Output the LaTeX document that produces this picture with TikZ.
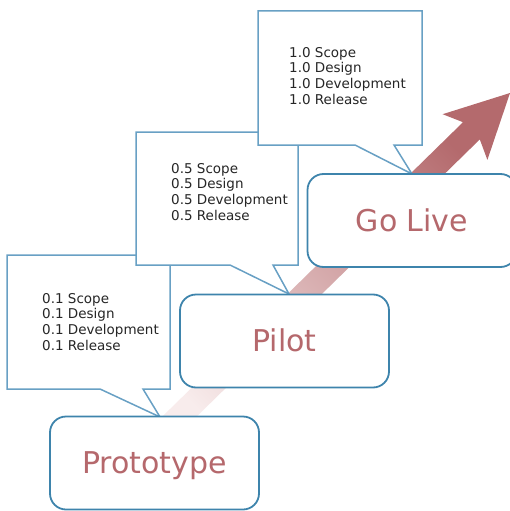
\documentclass[tikz,border=0pt]{standalone}
\usepackage{fontspec}
\setmainfont{DejaVu Sans}

\definecolor{boxblue}{RGB}{62,132,172}
\definecolor{noteblue}{RGB}{104,160,196}
\definecolor{stagered}{RGB}{181,104,108}
\definecolor{arrowlight}{RGB}{248,236,236}
\definecolor{arrowdark}{RGB}{180,106,109}

\tikzset{
  stage/.style={draw=boxblue, line width=1.8pt, fill=white, rounded corners=16pt,
    minimum width=209pt, minimum height=93pt, inner sep=0pt,
    text=stagered, font=\fontsize{30}{35}\selectfont, text height=21.5pt, text depth=0pt},
  notebox/.style={draw=noteblue, line width=1.5pt, fill=white},
  notetext/.style={anchor=north west, align=left, inner sep=0pt,
    font=\fontsize{13.5}{15.7}\selectfont, text=black!85},
}

\begin{document}
\begin{tikzpicture}[x=1pt, y=-1pt]
    \useasboundingbox (0,0) rectangle (510,511);
    \clip (0,0) rectangle (510,511);

    % 箭头
    \coordinate (T) at (510,93);
    \coordinate (B1) at (442.6,114.2);
    \coordinate (B2) at (487.4,159.9);
    \coordinate (I1) at (463.0,122.2);
    \coordinate (I2) at (479.8,139.4);
    \coordinate (S1) at (137.1,441.2);
    \coordinate (S2) at (153.9,458.4);
    \shade[bottom color=arrowlight, top color=arrowdark, shading angle=-45]
        (S1) -- (I1) -- (B1) -- (T) -- (B2) -- (I2) -- (S2) -- cycle;

    % 说明框
    \coordinate (tipA) at (160,417);
    \coordinate (tipB) at (289,294);
    \coordinate (tipC) at (412,174);

    \draw[notebox] (7,255) -- (170,255) -- (170,389) -- (143,389) -- (tipA)
        -- (100,389) -- (7,389) -- cycle;
    \node[notetext] (noteA) at (42,293)
        {0.1 Scope\\0.1 Design\\0.1 Development\\0.1 Release};

    \draw[notebox] (136,132) -- (298,132) -- (298,265) -- (273,265) -- (tipB)
        -- (230,265) -- (136,265) -- cycle;
    \node[notetext] (noteB) at (171,163)
        {0.5 Scope\\0.5 Design\\0.5 Development\\0.5 Release};

    \draw[notebox] (258,11) -- (422,11) -- (422,145) -- (394,145) -- (tipC)
        -- (355,145) -- (258,145) -- cycle;
    \node[notetext] (noteC) at (289,47)
        {1.0 Scope\\1.0 Design\\1.0 Development\\1.0 Release};

    % 阶段
    \node[stage] (proto) at (154.5,463) {Prototype};
    \node[stage] (pilot) at (284.5,341) {Pilot};
    \node[stage] (golive) at (412,220.5) {Go Live};
\end{tikzpicture}
\end{document}
